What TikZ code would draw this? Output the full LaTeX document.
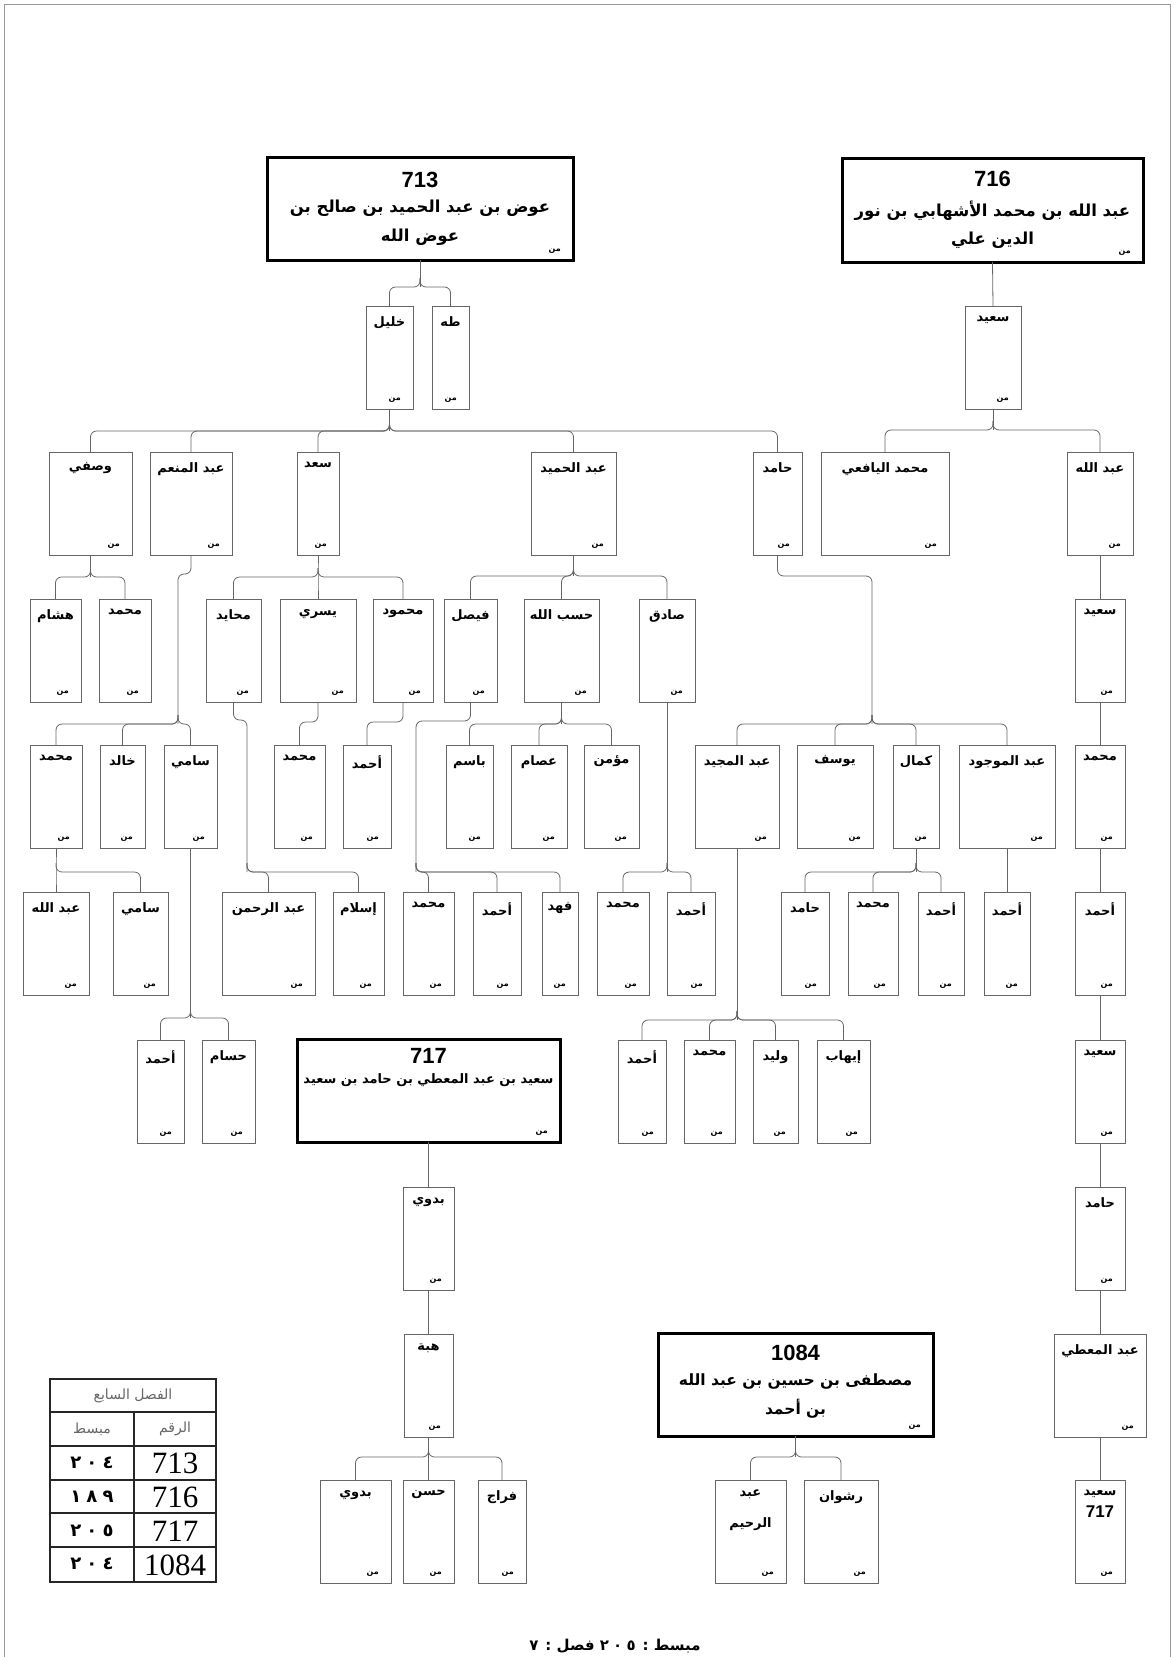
\documentclass[tikz,border=0pt]{standalone}
\usepackage{fontspec}
\setmainfont{Liberation Sans}
\newfontfamily\arabicfont[Script=Arabic]{DejaVu Sans}
\newfontfamily\digitfont[LetterSpace=28]{DejaVu Sans}
\newfontfamily\tablefont{Liberation Serif}
\TeXXeTstate=1

\newcommand{\ar}[1]{{\arabicfont\beginR #1\endR}}
% one person: id, left, top, width, name
\newcommand{\fard}[5]{%
  \node[pbox, minimum width=#4, anchor=north west] (#1) at (#2,#3) {};
  \node[pname] (#1-n) at (#1.north) {\arabicfont #5};
  \node[pmin] (#1-m) at (#1.south east) {\ar{من}};
}
% children hanging from a junction
\newcommand{\kids}[2]{%
  \foreach \kid in {#2}{\draw[link] ([yshift=9pt]#1) -- (#1) -| (\kid.north);}
}

\begin{document}
\begin{tikzpicture}[x=1pt, y=-1pt,
  pbox/.style={draw=black!60, line width=0.8pt, minimum height=103, inner sep=0pt, outer sep=0pt},
  bigbox/.style={draw=black, line width=3pt, inner sep=0pt, outer sep=0pt},
  pname/.style={anchor=north, yshift=-9pt, inner sep=1pt, font=\bfseries\fontsize{13}{15}\selectfont},
  pmin/.style={anchor=south east, xshift=-11pt, yshift=5pt, inner sep=1pt, font=\bfseries\fontsize{8}{9}\selectfont},
  bignum/.style={inner sep=0pt, font=\bfseries\fontsize{22}{24}\selectfont},
  bigline/.style={inner sep=0pt, font=\bfseries\fontsize{16.5}{18}\selectfont},
  link/.style={draw=black!60, line width=0.8pt, rounded corners=6pt},
  tbl/.style={draw=black!85, line width=1.6pt},
  thead/.style={text=black!60, font=\fontsize{14}{16}\selectfont},
  tnum/.style={font=\tablefont\fontsize{31}{33}\selectfont},
  tmab/.style={font=\digitfont\bfseries\fontsize{18}{20}\selectfont}]
\useasboundingbox (0,0) rectangle (1173,1657);
\draw[black!40, line width=1pt] (4,4) rectangle (1170,1700);

% heads
\node[bigbox, minimum width=306, minimum height=103, anchor=north west] (b713) at (267,157) {};
\node[bignum] (b713-a) at ([yshift=-23pt]b713.north) {713};
\node[bigline] (b713-b) at ([yshift=-51pt]b713.north) {\ar{عوض بن عبد الحميد بن صالح بن}};
\node[bigline] (b713-c) at ([yshift=-80pt]b713.north) {\ar{عوض الله}};
\node[pmin] (b713-m) at (b713.south east) {\ar{من}};

\node[bigbox, minimum width=301, minimum height=104, anchor=north west] (b716) at (842,158) {};
\node[bignum] (b716-a) at ([yshift=-21pt]b716.north) {716};
\node[bigline] (b716-b) at ([yshift=-53pt]b716.north) {\ar{عبد الله بن محمد الأشهابي بن نور}};
\node[bigline] (b716-c) at ([yshift=-82pt]b716.north) {\ar{الدين علي}};
\node[pmin] (b716-m) at (b716.south east) {\ar{من}};

\node[bigbox, minimum width=263, minimum height=103, anchor=north west] (b717) at (297,1039) {};
\node[bignum] (b717-a) at ([yshift=-17pt]b717.north) {717};
\node[bigline, font=\bfseries\fontsize{13}{15}\selectfont] (b717-b) at ([yshift=-41pt]b717.north) {\ar{سعيد بن عبد المعطي بن حامد بن سعيد}};
\node[pmin] (b717-m) at (b717.south east) {\ar{من}};

\node[bigbox, minimum width=275, minimum height=103, anchor=north west] (b1084) at (658,1333) {};
\node[bignum] (b1084-a) at ([yshift=-20pt]b1084.north) {1084};
\node[bigline, font=\bfseries\fontsize{15.5}{17}\selectfont] (b1084-b) at ([yshift=-48pt]b1084.north) {\ar{مصطفى بن حسين بن عبد الله}};
\node[bigline, font=\bfseries\fontsize{15.5}{17}\selectfont] (b1084-c) at ([yshift=-76pt]b1084.north) {\ar{بن أحمد}};
\node[pmin] (b1084-m) at (b1084.south east) {\ar{من}};

% row B
\fard{khalil}{366}{306}{47}{خليل}
\fard{taha}{432}{306}{37}{طه}
\fard{saeedB}{965}{306}{56}{سعيد}
% row C
\fard{wasfi}{49}{452}{83}{وصفي}
\fard{munim}{150}{452}{82}{\beginR عبد المنعم\endR}
\fard{saad}{297}{452}{42}{سعد}
\fard{hamid}{531}{452}{85}{\beginR عبد الحميد\endR}
\fard{hamed}{753}{452}{49}{حامد}
\fard{yafii}{821}{452}{128}{\beginR محمد اليافعي\endR}
\fard{abdallahR}{1067}{452}{66}{\beginR عبد الله\endR}
% row D
\fard{hisham}{30}{599}{51}{هشام}
\fard{mohD}{99}{599}{52}{محمد}
\fard{muhayed}{206}{599}{55}{محايد}
\fard{yusri}{280}{599}{76}{يسري}
\fard{mahmud}{373}{599}{60}{محمود}
\fard{faisal}{444}{599}{53}{فيصل}
\fard{hasab}{524}{599}{75}{\beginR حسب الله\endR}
\fard{sadiq}{639}{599}{56}{صادق}
\fard{saeedD}{1075}{599}{50}{سعيد}
% row E
\fard{mohE}{30}{745}{52}{محمد}
\fard{khaled}{100}{745}{45}{خالد}
\fard{samiE}{164}{745}{53}{سامي}
\fard{mohE2}{274}{745}{51}{محمد}
\fard{ahmE2}{343}{745}{48}{أحمد}
\fard{basem}{446}{745}{47}{باسم}
\fard{essam}{511}{745}{56}{عصام}
\fard{momen}{584}{745}{55}{مؤمن}
\fard{majid}{695}{745}{84}{\beginR عبد المجيد\endR}
\fard{yusuf}{797}{745}{76}{يوسف}
\fard{kamal}{893}{745}{46}{كمال}
\fard{mawjud}{959}{745}{96}{\beginR عبد الموجود\endR}
\fard{mohE3}{1075}{745}{50}{محمد}
% row F
\fard{abdallahF}{23}{892}{66}{\beginR عبد الله\endR}
\fard{samiF}{113}{892}{55}{سامي}
\fard{rahman}{222}{892}{93}{\beginR عبد الرحمن\endR}
\fard{islam}{333}{892}{51}{إسلام}
\fard{mohF}{403}{892}{51}{محمد}
\fard{ahmF}{473}{892}{48}{أحمد}
\fard{fahd}{542}{892}{36}{فهد}
\fard{mohF2}{597}{892}{52}{محمد}
\fard{ahmF2}{667}{892}{48}{أحمد}
\fard{hamedF}{781}{892}{48}{حامد}
\fard{mohF3}{848}{892}{50}{محمد}
\fard{ahmF3}{918}{892}{46}{أحمد}
\fard{ahmF4}{984}{892}{46}{أحمد}
\fard{ahmF5}{1075}{892}{50}{أحمد}
% row G
\fard{ahmG}{137}{1040}{47}{أحمد}
\fard{husam}{202}{1040}{53}{حسام}
\fard{ahmG2}{618}{1040}{48}{أحمد}
\fard{mohG}{684}{1040}{51}{محمد}
\fard{walid}{753}{1040}{45}{وليد}
\fard{ihab}{817}{1040}{53}{إيهاب}
\fard{saeedG}{1075}{1040}{50}{سعيد}
% row H
\fard{badawi}{403}{1187}{51}{بدوي}
\fard{hamedH}{1075}{1187}{50}{حامد}
% row I
\fard{hiba}{404}{1334}{49}{هبة}
\fard{muti}{1054}{1334}{92}{\beginR عبد المعطي\endR}
% row J
\fard{badawiJ}{320}{1480}{71}{بدوي}
\fard{hasan}{403}{1480}{51}{حسن}
\fard{farraj}{478}{1480}{48}{فراج}
\fard{rashwan}{804}{1480}{74}{رشوان}
\node[pbox, minimum width=71, anchor=north west] (rahim) at (715,1480) {};
\node[pname, align=center, font=\bfseries\fontsize{13}{31}\selectfont] (rahim-n) at (rahim.north) {\ar{عبد}\\\ar{الرحيم}};
\node[pmin] (rahim-m) at (rahim.south east) {\ar{من}};
\node[pbox, minimum width=50, anchor=north west] (saeed717) at (1075,1480) {};
\node[pname, align=center, font=\bfseries\fontsize{13}{22}\selectfont] (saeed717-n) at (saeed717.north) {\ar{سعيد}\\{\fontsize{17}{19}\selectfont 717}};
\node[pmin] (saeed717-m) at (saeed717.south east) {\ar{من}};

% links
\coordinate (j713) at (420,287);
\draw[link] (b713.south) -- (j713);
\kids{j713}{khalil,taha}
\coordinate (jkhalil) at (389.5,431);
\draw[link] (khalil.south) -- (jkhalil);
\kids{jkhalil}{wasfi,munim,saad,hamid,hamed}

\draw[link] (b716.south) -- (saeedB.north);
\coordinate (jsaeedB) at (993,430);
\draw[link] (saeedB.south) -- (jsaeedB);
\kids{jsaeedB}{yafii,abdallahR}

\coordinate (jwasfi) at (90.5,577);
\draw[link] (wasfi.south) -- (jwasfi);
\kids{jwasfi}{hisham,mohD}
\coordinate (jmunim) at (178,724);
\draw[link] (munim.south) -- ++(0,19) -| (jmunim);
\kids{jmunim}{mohE,khaled,samiE}
\coordinate (jsaad) at (318,577);
\draw[link] (saad.south) -- (jsaad) -- (yusri.north);
\kids{jsaad}{muhayed,mahmud}
\coordinate (jhamid) at (573.5,576);
\draw[link] (hamid.south) -- (jhamid);
\kids{jhamid}{faisal,hasab,sadiq}
\coordinate (jhamed) at (872,724);
\draw[link] (hamed.south) -- ++(0,21) -| (jhamed);
\kids{jhamed}{majid,yusuf,kamal,mawjud}

\coordinate (jmuhayed) at (247,872);
\draw[link] (muhayed.south) -- ++(0,18) -| (jmuhayed);
\kids{jmuhayed}{rahman,islam}
\draw[link] (yusri.south) -- ++(0,20) -| (mohE2.north);
\draw[link] (mahmud.south) -- ++(0,20) -| (ahmE2.north);
\coordinate (jfaisal) at (416,872);
\draw[link] (faisal.south) -- ++(0,19) -| (jfaisal);
\kids{jfaisal}{mohF,ahmF,fahd}
\coordinate (jhasab) at (561.5,724);
\draw[link] (hasab.south) -- (jhasab);
\kids{jhasab}{basem,essam,momen}
\coordinate (jsadiq) at (667,872);
\draw[link] (sadiq.south) -- (jsadiq);
\kids{jsadiq}{mohF2,ahmF2}

\coordinate (jmohE) at (56,872);
\draw[link] (mohE.south) -- (jmohE) -- (abdallahF.north);
\kids{jmohE}{samiF}
\coordinate (jsamiE) at (190.5,1018);
\draw[link] (samiE.south) -- (jsamiE);
\kids{jsamiE}{ahmG,husam}
\coordinate (jmajid) at (737,1020);
\draw[link] (majid.south) -- (jmajid);
\kids{jmajid}{ahmG2,mohG,walid,ihab}
\coordinate (jkamal) at (916,872);
\draw[link] (kamal.south) -- (jkamal);
\kids{jkamal}{hamedF,mohF3,ahmF3}
\draw[link] (mawjud.south) -- (ahmF4.north);

% right column
\draw[link] (abdallahR.south) -- (saeedD.north);
\draw[link] (saeedD.south) -- (mohE3.north);
\draw[link] (mohE3.south) -- (ahmF5.north);
\draw[link] (ahmF5.south) -- (saeedG.north);
\draw[link] (saeedG.south) -- (hamedH.north);
\draw[link] (hamedH.south) -- (muti.north);
\draw[link] (muti.south) -- (saeed717.north);

\draw[link] (b717.south) -- (badawi.north);
\draw[link] (badawi.south) -- (hiba.north);
\coordinate (jhiba) at (428.5,1457);
\draw[link] (hiba.south) -- (jhiba) -- (hasan.north);
\kids{jhiba}{badawiJ,farraj}
\coordinate (j1084) at (795.5,1457);
\draw[link] (b1084.south) -- (j1084);
\kids{j1084}{rahim,rashwan}

% table
\draw[tbl] (50,1379) rectangle (216,1582);
\foreach \yy in {1412,1446,1480,1513,1547} \draw[tbl] (50,\yy) -- (216,\yy);
\draw[tbl] (134,1412) -- (134,1582);
\node[thead] (t-h) at (133,1396) {\ar{الفصل السابع}};
\node[thead] (t-l) at (92,1429) {\ar{مبسط}};
\node[thead] (t-r) at (175,1429) {\ar{الرقم}};
\foreach \num/\mab [count=\i] in {713/٢٠٤,716/١٨٩,717/٢٠٥,1084/٢٠٤}{
  \node[tnum] (t-n\i) at (175,1430+33.8*\i) {\num};
  \node[tmab] (t-m\i) at (92,1429+33.8*\i) {\mab};
}

\node[font=\bfseries\fontsize{15}{17}\selectfont] (foot) at (615,1646) {\arabicfont\beginR مبسط : \beginL{\digitfont ٢٠٥}\endL{} فصل : ٧\endR};
\end{tikzpicture}
\end{document}
